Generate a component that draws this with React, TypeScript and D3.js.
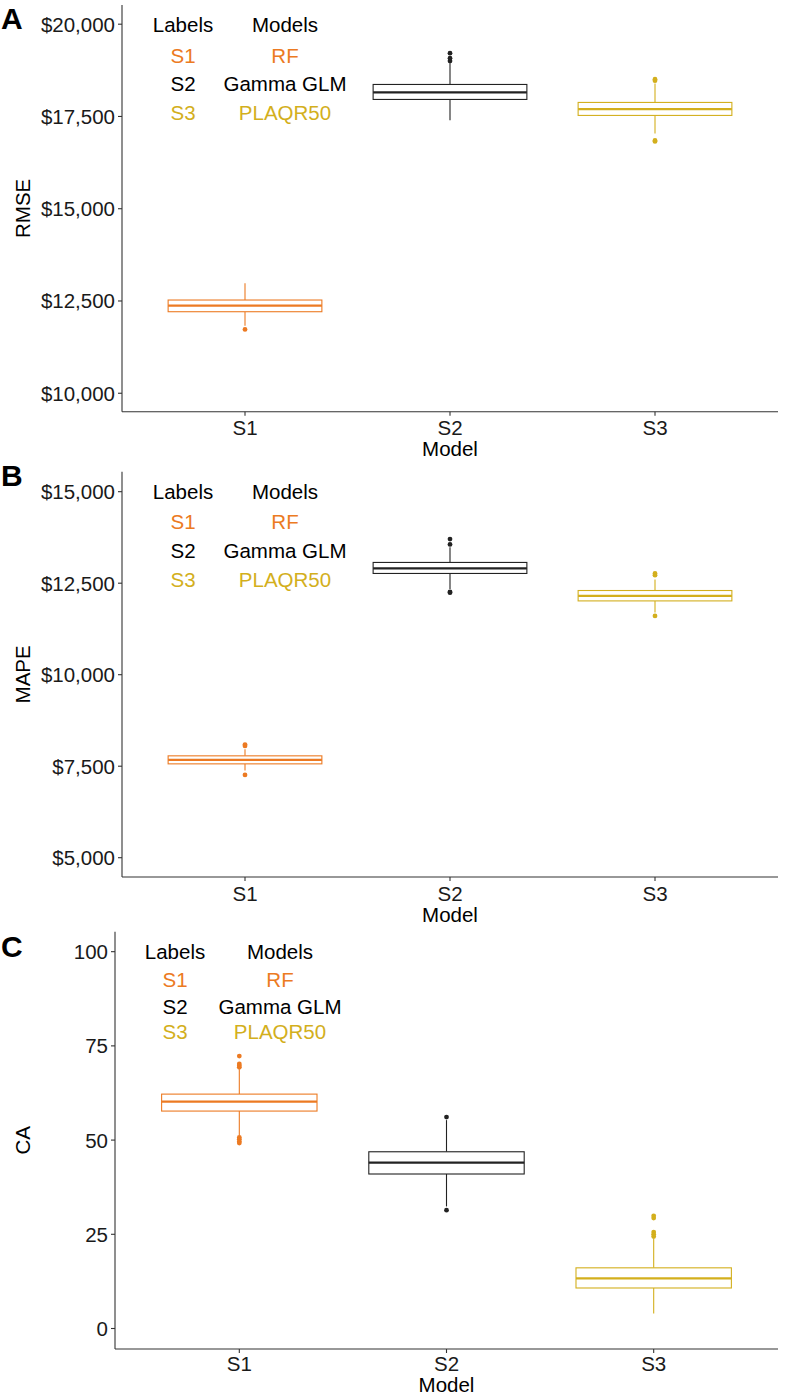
import React from "react";
import * as d3 from "d3";

const categories = ["S1", "S2", "S3"];
const models = ["RF", "Gamma GLM", "PLAQR50"];
const colors = ["#EC7A22", "#000000", "#D3AF1D"];

type Box = { lo: number; q1: number; med: number; q3: number; hi: number; out: number[] };

const rmseBoxes: Box[] = [
  { lo: 11830, q1: 12209, med: 12372, q3: 12526, hi: 12978, out: [11730] },
  { lo: 17400, q1: 17961, med: 18150, q3: 18367, hi: 18944, out: [19000, 19080, 19215] },
  { lo: 17040, q1: 17528, med: 17698, q3: 17880, hi: 18395, out: [18470, 18510, 16823, 16850] },
];
const mapeBoxes: Box[] = [
  { lo: 7380, q1: 7564, med: 7673, q3: 7783, hi: 7960, out: [8055, 8092, 7262] },
  { lo: 12340, q1: 12766, med: 12903, q3: 13067, hi: 13480, out: [13560, 13705, 12262, 12240] },
  { lo: 11700, q1: 12016, med: 12153, q3: 12300, hi: 12600, out: [12719, 12766, 11605] },
];
const caBoxes: Box[] = [
  { lo: 51.2, q1: 57.7, med: 60.2, q3: 62.2, hi: 68.8, out: [72.3, 70.2, 69.7, 69.3, 50.7, 50.2, 49.6, 49.2] },
  { lo: 32.4, q1: 41.0, med: 44.0, q3: 46.9, hi: 55.3, out: [56.1, 31.4] },
  { lo: 4.0, q1: 10.75, med: 13.3, q3: 16.1, hi: 23.8, out: [29.9, 29.3, 25.6, 25.0, 24.4] },
];

const rmseTicks = [10000, 12500, 15000, 17500, 20000];
const mapeTicks = [5000, 7500, 10000, 12500, 15000];
const caTicks = [0, 25, 50, 75, 100];

const dollar = (v: number) => "$" + d3.format(",")(v);
const plain = (v: number) => String(v);

const FONT = "'Liberation Sans', Arial, Helvetica, sans-serif";
const AXIS = "#333333";
const FS = 20.5;

type PanelProps = {
  letter: string;
  title: string;
  boxes: Box[];
  ticks: number[];
  fmt: (v: number) => string;
  domain: [number, number];
  top: number;
  bottom: number;
  left: number;
  right: number;
  labelsX: number;
  modelsX: number;
  rowOffsets: number[];
  letterY: number;
  tickGap: number;
  modelGap: number;
};

function Panel(p: PanelProps) {
  const y = d3.scaleLinear().domain(p.domain).range([p.bottom, p.top]);
  const x = d3.scalePoint().domain(categories).range([p.left, p.right]).padding(0.6);
  const unit = x.step();
  const bw = unit * 0.75;
  const topTickY = y(p.ticks[p.ticks.length - 1]);
  return (
    <g>
      <text x={1} y={p.letterY} fontFamily={FONT} fontWeight="bold" fontSize={30} fill="#000" dominantBaseline="central">
        {p.letter}
      </text>
      <line x1={p.left} x2={p.left} y1={p.top} y2={p.bottom} stroke={AXIS} strokeWidth={1.1} />
      <line x1={p.left} x2={p.right} y1={p.bottom} y2={p.bottom} stroke={AXIS} strokeWidth={1.1} />
      {p.ticks.map((t) => (
        <g key={t}>
          <line x1={p.left - 4} x2={p.left} y1={y(t)} y2={y(t)} stroke={AXIS} strokeWidth={1.1} />
          <text x={p.left - 7} y={y(t)} textAnchor="end" dominantBaseline="central" fontFamily={FONT} fontSize={FS} fill="#1a1a1a">
            {p.fmt(t)}
          </text>
        </g>
      ))}
      {categories.map((c) => (
        <g key={c}>
          <line x1={x(c)} x2={x(c)} y1={p.bottom} y2={p.bottom + 4} stroke={AXIS} strokeWidth={1.1} />
          <text x={x(c)} y={p.bottom + p.tickGap} textAnchor="middle" dominantBaseline="central" fontFamily={FONT} fontSize={FS} fill="#1a1a1a">
            {c}
          </text>
        </g>
      ))}
      <text x={(p.left + p.right) / 2} y={p.bottom + p.modelGap} textAnchor="middle" dominantBaseline="central" fontFamily={FONT} fontSize={FS} fill="#000">
        Model
      </text>
      <text
        transform={`translate(22,${(p.top + p.bottom) / 2}) rotate(-90)`}
        textAnchor="middle"
        dominantBaseline="central"
        fontFamily={FONT}
        fontSize={FS}
        fill="#000"
      >
        {p.title}
      </text>
      <text x={p.labelsX} y={topTickY + p.rowOffsets[0]} textAnchor="middle" dominantBaseline="central" fontFamily={FONT} fontSize={FS} fill="#000">
        Labels
      </text>
      <text x={p.modelsX} y={topTickY + p.rowOffsets[0]} textAnchor="middle" dominantBaseline="central" fontFamily={FONT} fontSize={FS} fill="#000">
        Models
      </text>
      {categories.map((c, i) => (
        <g key={"leg" + c}>
          <text x={p.labelsX} y={topTickY + p.rowOffsets[i + 1]} textAnchor="middle" dominantBaseline="central" fontFamily={FONT} fontSize={FS} fill={colors[i]}>
            {c}
          </text>
          <text x={p.modelsX} y={topTickY + p.rowOffsets[i + 1]} textAnchor="middle" dominantBaseline="central" fontFamily={FONT} fontSize={FS} fill={colors[i]}>
            {models[i]}
          </text>
        </g>
      ))}
      {p.boxes.map((b, i) => {
        const cx = x(categories[i]) as number;
        const col = colors[i] === "#000000" ? "#222222" : colors[i];
        return (
          <g key={"box" + i}>
            <line x1={cx} x2={cx} y1={y(b.q3)} y2={y(b.hi)} stroke={col} strokeWidth={1.1} />
            <line x1={cx} x2={cx} y1={y(b.q1)} y2={y(b.lo)} stroke={col} strokeWidth={1.1} />
            <rect x={cx - bw / 2} y={y(b.q3)} width={bw} height={y(b.q1) - y(b.q3)} fill="#fff" stroke={col} strokeWidth={1.1} />
            <line x1={cx - bw / 2} x2={cx + bw / 2} y1={y(b.med)} y2={y(b.med)} stroke={col} strokeWidth={2.3} />
            {b.out.map((o, k) => (
              <circle key={k} cx={cx} cy={y(o)} r={2.4} fill={col} />
            ))}
          </g>
        );
      })}
    </g>
  );
}

export default function App() {
  return (
    <svg width={787} height={1395} style={{ position: "absolute", left: 0, top: 0, background: "#fff" }}>
      <rect width={787} height={1395} fill="#fff" />
      <Panel
        letter="A"
        title="RMSE"
        boxes={rmseBoxes}
        ticks={rmseTicks}
        fmt={dollar}
        domain={[9500, 20520]}
        top={5}
        bottom={411.7}
        left={122}
        right={778}
        labelsX={183}
        modelsX={285}
        rowOffsets={[0, 31, 59.5, 88.5]}
        letterY={18}
        tickGap={16}
        modelGap={37}
      />
      <Panel
        letter="B"
        title="MAPE"
        boxes={mapeBoxes}
        ticks={mapeTicks}
        fmt={dollar}
        domain={[4473, 15546]}
        top={471.7}
        bottom={877}
        left={122}
        right={778}
        labelsX={183}
        modelsX={285}
        rowOffsets={[0, 30, 58.5, 88]}
        letterY={475}
        tickGap={16}
        modelGap={37}
      />
      <Panel
        letter="C"
        title="CA"
        boxes={caBoxes}
        ticks={caTicks}
        fmt={plain}
        domain={[-5.44, 105.3]}
        top={931.7}
        bottom={1349}
        left={115}
        right={778}
        labelsX={175}
        modelsX={280}
        rowOffsets={[0, 28.3, 54.8, 80.3]}
        letterY={946}
        tickGap={14}
        modelGap={35.5}
      />
    </svg>
  );
}
